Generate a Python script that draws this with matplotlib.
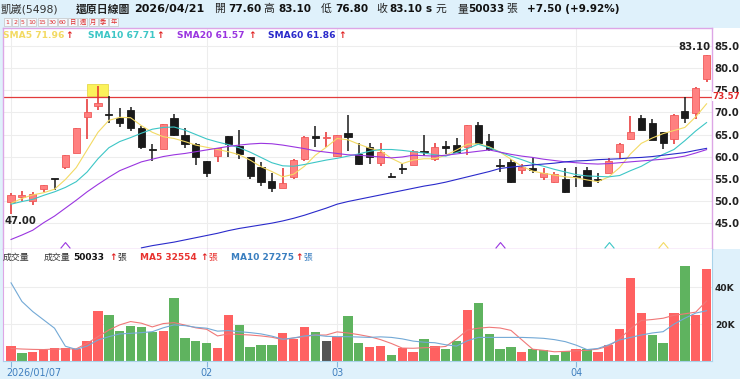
"""Daily candlestick chart with moving averages and volume panel."""

import matplotlib.pyplot as plt
import numpy as np
from matplotlib.patches import Rectangle
from matplotlib.path import Path
from matplotlib.transforms import ScaledTranslation, blended_transform_factory

plt.rcParams['font.family'] = ['DejaVu Sans', 'Noto Sans CJK TC']

# ---- data ----
stock_name = '凱崴(5498)'
chart_kind = '還原日線圖'
last_date = '2026/04/21'

opens = [49.8, 50.9, 50.0, 52.6, 54.9, 57.6, 60.7, 68.9, 71.5, 69.5, 68.8, 70.6, 66.4,
         61.8, 61.8, 68.7, 64.9, 62.8, 59.0, 60.2, 64.7, 62.4, 60.0, 57.6, 54.4, 52.8,
         55.4, 59.4, 64.4, 64.1, 60.1, 65.4, 60.6, 62.1, 58.6, 55.6, 57.4, 58.1, 61.2,
         59.4, 62.2, 62.6, 62.1, 67.2, 63.5, 58.0, 58.8, 57.0, 57.2, 55.4, 54.3, 54.9,
         55.5, 57.0, 54.8, 56.3, 61.1, 63.9, 68.7, 67.7, 65.6, 63.9, 70.4, 69.9, 77.6]
highs = [51.7, 52.2, 52.0, 53.6, 55.0, 60.4, 66.4, 73.0, 76.0, 73.7, 71.0, 71.3, 66.9,
         62.9, 67.4, 69.7, 66.4, 63.0, 59.0, 62.0, 64.7, 66.0, 60.0, 58.8, 56.2, 57.5,
         59.4, 64.7, 66.9, 65.6, 65.0, 69.4, 63.0, 63.0, 63.0, 56.2, 58.3, 61.5, 64.9,
         63.0, 63.6, 64.1, 67.2, 67.9, 65.1, 59.4, 59.4, 58.3, 59.8, 57.3, 56.5, 57.3,
         57.7, 57.7, 56.3, 59.6, 63.0, 69.2, 69.4, 68.5, 65.6, 69.6, 73.4, 75.7, 83.1]
lows = [47.0, 50.0, 49.0, 52.0, 52.5, 57.2, 60.7, 63.9, 70.5, 67.7, 66.6, 65.9, 61.6,
        59.1, 61.8, 64.6, 61.9, 58.1, 55.3, 58.8, 60.0, 59.4, 55.0, 53.4, 51.9, 52.8,
        54.8, 59.0, 62.1, 62.2, 59.9, 61.3, 58.1, 58.3, 57.9, 55.3, 56.0, 58.1, 60.1,
        59.0, 60.6, 60.9, 60.4, 63.0, 61.3, 56.6, 53.9, 56.0, 56.2, 54.7, 53.9, 51.8,
        53.2, 53.4, 53.9, 56.3, 59.4, 63.7, 66.0, 63.7, 61.6, 62.8, 67.5, 68.5, 76.8]
closes = [51.3, 51.0, 51.5, 53.5, 54.8, 60.3, 66.4, 70.0, 72.1, 69.4, 67.5, 66.5, 62.1,
          61.5, 67.4, 64.9, 62.9, 59.8, 56.3, 61.9, 62.8, 60.6, 55.6, 54.2, 52.8, 53.9,
          59.2, 64.5, 64.3, 64.3, 64.8, 64.4, 58.3, 59.8, 61.1, 55.3, 57.2, 61.3, 61.0,
          62.2, 62.0, 61.1, 67.2, 63.0, 61.6, 57.8, 54.3, 57.6, 57.0, 56.3, 56.0, 52.0,
          55.3, 53.4, 54.6, 59.1, 62.9, 65.6, 66.0, 63.8, 63.0, 69.4, 68.7, 75.6, 83.1]

sma5 = [49.4, 50.5, 51.3, 51.8, 52.6, 54.8, 57.5, 61.5, 65.5, 68.2, 68.9, 68.8, 67.0,
        65.5, 64.5, 64.1, 63.4, 62.6, 62.1, 61.6, 61.1, 60.4, 59.2, 57.7, 56.6, 55.4,
        56.0, 57.8, 60.3, 62.1, 64.1, 63.8, 62.8, 61.9, 61.3, 59.6, 58.4, 59.2, 59.5,
        59.5, 60.3, 61.5, 62.8, 62.9, 62.2, 61.0, 59.4, 57.8, 56.7, 56.2, 55.8, 55.4,
        55.2, 54.7, 54.3, 55.4, 57.5, 60.6, 63.0, 64.2, 65.2, 65.9, 66.6, 69.0, 71.96]
sma10 = [49.2, 49.8, 50.3, 51.2, 52.0, 53.0, 54.3, 56.5, 59.5, 62.0, 63.4, 64.3, 65.3,
         66.2, 66.6, 66.7, 66.0, 65.0, 64.0, 63.3, 62.7, 62.0, 61.0, 59.8, 58.6, 57.9,
         57.8, 58.2, 58.7, 59.2, 59.6, 60.1, 60.6, 61.2, 61.6, 61.6, 61.4, 61.1, 60.8,
         60.4, 60.1, 60.9, 61.8, 62.8, 62.0, 61.0, 60.1, 59.3, 58.4, 57.8, 57.1, 56.5,
         55.9, 55.6, 55.5, 55.4, 55.7, 56.8, 57.8, 59.2, 60.5, 61.6, 63.6, 65.8, 67.71]
sma20 = [41.2, 42.2, 43.3, 45.0, 46.5, 48.3, 50.1, 52.0, 53.7, 55.3, 56.8, 57.8, 58.8,
         59.4, 60.0, 60.4, 60.7, 61.1, 61.5, 61.9, 62.3, 62.6, 62.85, 63.0, 62.9, 62.6,
         62.2, 61.8, 61.3, 61.0, 60.7, 60.4, 60.3, 60.1, 59.9, 59.7, 59.9, 60.3, 60.2,
         60.1, 60.3, 60.6, 60.9, 61.2, 61.5, 61.0, 60.5, 60.1, 59.8, 59.4, 59.1, 58.8,
         58.6, 58.4, 58.3, 58.4, 58.6, 58.8, 59.0, 59.2, 59.4, 59.7, 60.1, 60.8, 61.57]
sma60 = [np.nan] * 12 + [
         39.3, 39.8, 40.2, 40.6, 41.1, 41.6, 42.1, 42.6, 43.2, 43.7, 44.1, 44.5, 44.9,
         45.4, 46.0, 46.7, 47.5, 48.3, 49.2, 49.8, 50.3, 50.8, 51.3, 51.8, 52.3, 52.8,
         53.3, 53.7, 54.2, 54.8, 55.4, 56.0, 56.6, 57.3, 57.6, 57.85, 58.1, 58.3, 58.5,
         58.8, 59.0, 59.1, 59.3, 59.4, 59.5, 59.7, 59.8, 60.0, 60.3, 60.6, 60.9, 61.4, 61.86]

# volume in thousands of lots (張)
volumes = [8.1, 4.1, 5.0, 5.9, 7.2, 7.2, 6.5, 10.8, 27.2, 24.9, 16.5, 19.0, 18.3, 15.9,
           16.5, 34.0, 12.5, 11.0, 9.6, 7.2, 24.7, 19.6, 7.7, 8.5, 8.5, 15.0, 11.8, 18.6,
           15.9, 10.8, 13.2, 24.5, 9.9, 7.7, 8.1, 3.5, 6.8, 5.0, 11.7, 8.3, 6.6, 11.0,
           27.6, 31.4, 14.7, 6.3, 7.4, 5.0, 6.5, 5.9, 3.5, 5.4, 6.5, 6.3, 5.0, 8.6, 17.2,
           45.1, 26.0, 14.1, 9.9, 26.3, 51.8, 25.0, 50.033]
vol_ma5 = [6.8, 6.5, 6.3, 6.2, 6.5, 6.5, 6.6, 9.6, 13.2, 16.8, 19.6, 21.4, 20.5, 18.5,
           20.3, 20.8, 19.5, 18.0, 17.2, 13.6, 14.7, 14.4, 14.1, 13.6, 12.9, 11.6, 12.5,
           13.2, 14.1, 14.1, 15.8, 15.2, 14.3, 13.2, 11.6, 9.5, 7.0, 6.9, 7.2, 7.4, 7.9,
           12.0, 16.8, 17.8, 18.3, 17.9, 16.6, 11.5, 6.4, 5.8, 5.0, 5.2, 5.5, 5.8, 6.5,
           8.1, 12.0, 17.5, 22.0, 22.5, 23.2, 24.8, 25.6, 26.5, 32.554]
vol_ma10 = [42.4, 32.3, 26.8, 22.3, 17.8, 8.0, 6.3, 8.1, 11.4, 13.2, 14.7, 15.0, 15.4,
            15.9, 18.0, 19.6, 19.2, 18.3, 17.8, 16.2, 16.5, 15.9, 15.4, 14.7, 13.5, 11.8,
            12.5, 13.6, 14.1, 13.4, 13.2, 13.2, 13.0, 12.8, 13.1, 12.8, 12.0, 10.8, 10.2,
            9.9, 8.8, 8.1, 11.0, 12.8, 12.8, 12.8, 12.8, 12.8, 12.6, 12.3, 11.6, 10.5,
            8.6, 6.2, 6.8, 8.8, 11.4, 12.8, 14.1, 15.2, 15.9, 20.0, 23.2, 26.0, 27.275]

month_idx = [0, 18, 30, 52]
month_labels = ['2026/01/07', '02', '03', '04']
ref_line = 73.57
marker_idx = [5, 45, 55, 60]
marker_line = ['SMA20', 'SMA20', 'SMA10', 'SMA5']
periods = ['1', '2', '5', '10', '15', '30', '60', '日', '週', '月', '季', '年']

# ---- style ----
BG = '#dff1fb'
UP, DOWN = '#e62e2e', '#1a1a1a'
MA_COLORS = {'SMA5': '#f3da63', 'SMA10': '#3cc6c6', 'SMA20': '#9a35e0', 'SMA60': '#2a2acb'}
W, H = 740, 379


def fx(px):
    return px / W


def fy(py):
    return 1 - py / H


def ftxt(px, py, s, **kw):
    kw.setdefault('va', 'center')
    kw.setdefault('ha', 'left')
    fig.text(fx(px), fy(py), s, **kw)


fig = plt.figure(figsize=(7.4, 3.79), dpi=100, facecolor=BG)
fig.add_artist(Rectangle((fx(712), fy(249.3)), fx(28), (249.3 - 28) / H,
                         transform=fig.transFigure, facecolor='white', lw=0, zorder=-5))

ax = fig.add_axes([fx(3), fy(249.3), fx(709), (249.3 - 28) / H])
axv = fig.add_axes([fx(3), fy(361), fx(709), (361 - 249.3) / H], sharex=ax)

x = np.arange(len(closes))
o, h, l, c = (np.array(a) for a in (opens, highs, lows, closes))

# ---- candles ----
up = c >= o
ax.vlines(x, l, h, colors=np.where(up, UP, DOWN), lw=1.1, zorder=3)
ax.bar(x, np.maximum(np.abs(c - o), 0.3), bottom=np.minimum(o, c), width=0.66,
       color=np.where(up, '#ff8080', DOWN), edgecolor=np.where(up, '#f05a5a', DOWN),
       lw=0.6, zorder=4)

# previous high highlight
box_i = int(np.argmax(h[:40]))
ax.add_patch(Rectangle((box_i - 1.05, h[box_i] - 2.3), 2.0, 2.75,
                       facecolor='#fbf25a', edgecolor='#e6d84a', lw=0.6, zorder=1))

for name, vals in (('SMA5', sma5), ('SMA10', sma10), ('SMA20', sma20), ('SMA60', sma60)):
    ax.plot(x, vals, color=MA_COLORS[name], lw=0.8, zorder=5)

ax.axhline(ref_line, color='#e23b3b', lw=0.9, zorder=2)

caret = Path([(-1, -0.6), (0, 0.6), (1, -0.6)], [Path.MOVETO, Path.LINETO, Path.LINETO])
btrans = blended_transform_factory(ax.transData, ax.transAxes)
for i, name in zip(marker_idx, marker_line):
    ax.plot(i, 0.02, marker=caret, ms=7, mfc='none', mec=MA_COLORS[name], mew=0.8,
            transform=btrans, zorder=6)

imin = int(np.argmin(l))
ax.annotate(f'{l[imin]:.2f}', xy=(imin, l[imin]), xytext=(-4.5, -1.5),
            textcoords='offset points', ha='left', va='top', fontsize=7.3,
            fontweight='bold', color='#222')
imax = int(np.argmax(h))
ax.annotate(f'{h[imax]:.2f}', xy=(imax, h[imax]), xytext=(2.5, 2),
            textcoords='offset points', ha='right', va='bottom', fontsize=7.3,
            fontweight='bold', color='#222')

ax.set_xlim(-0.74, 64.5)
ax.set_ylim(38.97, 89.15)
ticks = np.arange(45, 86, 5)
ax.set_yticks(ticks)
ax.set_yticklabels([f'{t:.1f}' for t in ticks], fontweight='bold')
ax.yaxis.tick_right()
ax.tick_params(axis='y', length=0, pad=1.5, labelsize=7.3, labelcolor='#222')
ax.tick_params(axis='x', length=0, labelbottom=False)
ax.set_xticks(month_idx)
ax.grid(color='#ededed', lw=0.8, zorder=0)
ax.set_axisbelow(True)
for sp in ax.spines.values():
    sp.set_color('#dda6e6')
    sp.set_linewidth(1)
ax.text(1.0, ref_line, f'{ref_line:.2f}',
        transform=blended_transform_factory(ax.transAxes, ax.transData),
        ha='left', va='center', fontsize=6.3, fontweight='bold', color='#e02a2a',
        bbox=dict(facecolor='white', edgecolor='none', pad=0.2))

# ---- volume ----
prev = np.concatenate([[c[0] - 1], c[:-1]])
vcol = np.where(c > prev, '#ff6161', np.where(c < prev, '#5fb35f', '#555555'))
axv.bar(x, volumes, width=0.86, color=vcol, zorder=2)
axv.plot(x, vol_ma5, color='#f07878', lw=0.8, zorder=3)
axv.plot(x, vol_ma10, color='#73a9d6', lw=0.8, zorder=3)
axv.set_ylim(0, 60.6)
axv.set_yticks([20, 40])
axv.set_yticklabels(['20K', '40K'], fontweight='bold')
axv.yaxis.tick_right()
axv.tick_params(axis='y', length=0, pad=2, labelsize=6.6, labelcolor='#222')
axv.set_xticks(month_idx)
axv.set_xticklabels(month_labels)
axv.tick_params(axis='x', length=4, width=0.8, color='#86b6dc', labelcolor='#3f7fbf',
                labelsize=6.9, pad=1)
first = axv.get_xticklabels()[0]
first.set_horizontalalignment('left')
first.set_transform(first.get_transform() + ScaledTranslation(-5 / 100, 0, fig.dpi_scale_trans))
axv.grid(color='#ededed', lw=0.8, zorder=0)
axv.set_axisbelow(True)
axv.spines['top'].set_visible(False)
axv.spines['left'].set_color('#dda6e6')
for s in ('right', 'bottom'):
    axv.spines[s].set_color('#a9d3ea')

# ---- header texts ----
VAL = dict(fontsize=7.5, color='#111', fontweight='bold')
LAB = dict(fontsize=7.8, color='#222')
ftxt(1, 9, stock_name, fontsize=7.8, color='#333')
ftxt(76, 9, chart_kind, fontsize=7.8, color='#222', fontweight='bold')
ftxt(134, 9, last_date, fontsize=8.0, color='#111', fontweight='bold')
for lab, lx, val, vx in (('開', 214, f'{o[-1]:.2f}', 228), ('高', 263, f'{h[-1]:.2f}', 278),
                         ('低', 321, f'{l[-1]:.2f}', 335), ('收', 376, f'{c[-1]:.2f}', 389)):
    ftxt(lx, 9, lab, **LAB)
    ftxt(vx, 9, val, **VAL)
ftxt(425, 9, 's', **VAL)
ftxt(435, 9, '元', **LAB)
ftxt(457, 9, '量', **LAB)
ftxt(468, 9, f'{volumes[-1] * 1000:.0f}', **VAL)
ftxt(506, 9, '張', **LAB)
chg = c[-1] - c[-2]
ftxt(527, 9, f'+{chg:.2f} (+{chg / c[-2] * 100:.2f}%)', **VAL)

# period buttons
bx = 4
for p in periods:
    bw = 6.6 if len(p) == 1 and p.isdigit() else 9.0
    fig.add_artist(Rectangle((fx(bx), fy(26)), fx(bw), 7.7 / H, transform=fig.transFigure,
                             facecolor='#f4f9fd', edgecolor='#c4c4c4', lw=0.5))
    fig.text(fx(bx + bw / 2), fy(22.1), p, ha='center', va='center', fontsize=4.5,
             color='#e03030')
    bx += bw + 1.2

# MA legend
for name, vals, px, ax_x in (('SMA5', sma5, 3, 65), ('SMA10', sma10, 88, 156),
                             ('SMA20', sma20, 177, 248), ('SMA60', sma60, 268, 338)):
    ftxt(px, 35, f'{name} {vals[-1]:.2f}', fontsize=6.6, color=MA_COLORS[name],
         fontweight='bold')
    ftxt(ax_x, 35, '↑', fontsize=6.6, color='#e02020', fontweight='bold')

# volume legend
ftxt(3, 257, '成交量', fontsize=6.4, color='#333')
ftxt(44, 257, '成交量', fontsize=6.4, color='#333')
ftxt(73, 257, f'{volumes[-1] * 1000:.0f}', fontsize=6.5, color='#111', fontweight='bold')
ftxt(109.5, 257, '↑', fontsize=6.5, color='#e02020', fontweight='bold')
ftxt(117, 257, '張', fontsize=6.3, color='#333')
ftxt(140, 257, f'MA5 {vol_ma5[-1] * 1000:.0f}', fontsize=6.5, color='#e8322f',
     fontweight='bold')
ftxt(200.5, 257, '↑', fontsize=6.5, color='#e02020', fontweight='bold')
ftxt(208, 257, '張', fontsize=6.3, color='#e8322f')
ftxt(231, 257, f'MA10 {vol_ma10[-1] * 1000:.0f}', fontsize=6.5, color='#3a7fc0',
     fontweight='bold')
ftxt(295.5, 257, '↑', fontsize=6.5, color='#e02020', fontweight='bold')
ftxt(303, 257, '張', fontsize=6.3, color='#3a7fc0')

fig.savefig('out.png', dpi=100, facecolor=BG)
